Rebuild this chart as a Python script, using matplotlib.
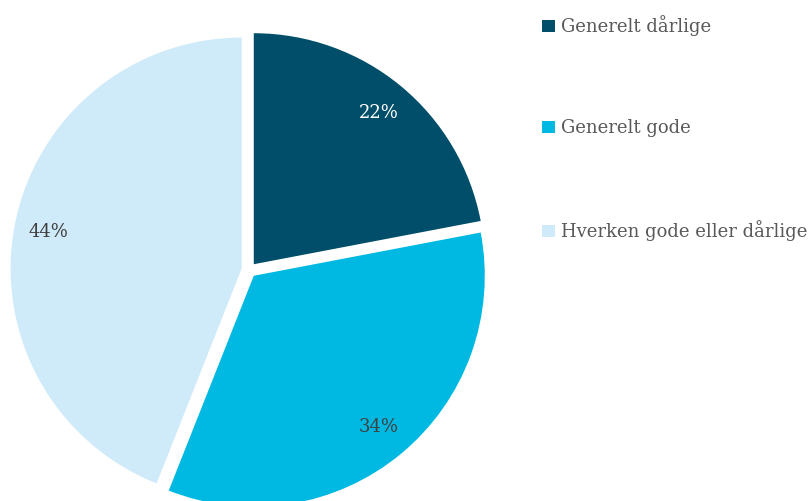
import matplotlib
matplotlib.use("Agg")
import matplotlib.pyplot as plt

labels = ["Generelt dårlige", "Generelt gode", "Hverken gode eller dårlige"]
shares = [22, 34, 44]
colors = ["#004E69", "#00B9E3", "#CFEAF8"]
pct_colors = ["white", "#404040", "#404040"]

plt.rcParams["font.family"] = ["DejaVu Serif"]

fig = plt.figure(figsize=(8.10, 5.01), dpi=100)
ax = fig.add_axes([0, 0, 1, 1])

# pie is drawn in pixel-like data units, explode is an absolute offset here
wedges, texts, autotexts = ax.pie(
    shares,
    colors=colors,
    startangle=90,
    counterclock=False,
    explode=[7.5] * 3,
    center=(249, 231),
    radius=231,
    autopct="%d%%",
    pctdistance=0.85,
    wedgeprops={"linewidth": 0},
    textprops={"fontsize": 13},
)
for t, c in zip(autotexts, pct_colors):
    t.set_color(c)

ax.set_xlim(0, 810)
ax.set_ylim(0, 501)
ax.set_aspect("equal")
ax.axis("off")

leg = ax.legend(
    wedges, labels,
    loc="upper left",
    bbox_to_anchor=(526 / 810, 1 + 1 / 501),
    bbox_transform=fig.transFigure,
    frameon=False,
    fontsize=13,
    handlelength=0.7,
    handleheight=0.7,
    handletextpad=0.35,
    labelspacing=4.6,
    labelcolor="#595959",
)

fig.savefig("out.png", dpi=100)
